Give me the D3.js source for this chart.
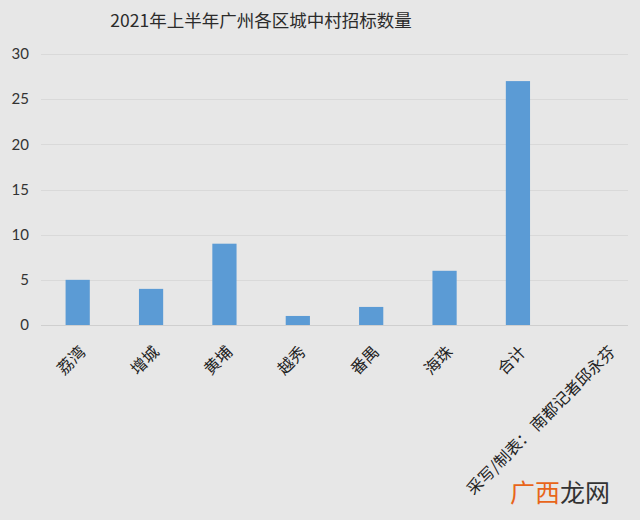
<!DOCTYPE html>
<html>
<head>
<meta charset="utf-8">
<script src="https://cdn.jsdelivr.net/npm/d3@7"></script>
<style>
  body { margin: 0; background: #e7e7e7; }
</style>
</head>
<body>
<div id="container"></div>
<script>
let w = 640;
let h = 520;

// DATA
let districts = ["荔湾", "增城", "黄埔", "越秀", "番禺", "海珠", "合计", "采写/制表： 南都记者邱永芬"];
let counts = [5, 4, 9, 1, 2, 6, 27, null];
let yTicks = [0, 5, 10, 15, 20, 25, 30];
let title = "2021年上半年广州各区城中村招标数量";

let viz = d3.select("#container").append("svg")
    .attr("width", w)
    .attr("height", h)
    .style("background-color", "#e7e7e7")
    .style("display", "block");

let xScale = d3.scaleBand().domain(districts).range([41, 628]).paddingInner(0.67).paddingOuter(0.335);
let yScale = d3.scaleLinear().domain([0, 30]).range([325, 54]);

// title
viz.append("text")
    .attr("x", 261)
    .attr("y", 27)
    .attr("text-anchor", "middle")
    .attr("font-family", "'Noto Sans CJK SC', 'Open Sans', sans-serif")
    .attr("font-size", 17.5)
    .attr("fill", "#2b2b2b")
    .text(title);

// gridlines
viz.selectAll(".grid").data(yTicks).enter()
  .append("line")
    .attr("x1", 41)
    .attr("x2", 628)
    .attr("y1", d => Math.round(yScale(d)) + 0.5)
    .attr("y2", d => Math.round(yScale(d)) + 0.5)
    .attr("stroke", d => d == 0 ? "#cfcfcf" : "#d9d9d9")
    .attr("stroke-width", 1);

// y axis labels
let yAxis = d3.axisLeft(yScale).tickValues(yTicks).tickSize(0).tickPadding(0);
let yg = viz.append("g").attr("transform", "translate(29,0)").call(yAxis);
yg.select(".domain").remove();
yg.selectAll("text")
    .attr("font-family", "Lato, 'Open Sans', sans-serif")
    .attr("font-size", 15)
    .attr("fill", "#333");

// bars
viz.selectAll(".bar").data(districts.map((d, i) => ({name: d, value: counts[i]})).filter(d => d.value != null)).enter()
  .append("rect")
    .attr("class", "bar")
    .attr("x", d => xScale(d.name))
    .attr("width", xScale.bandwidth())
    .attr("y", d => yScale(d.value))
    .attr("height", d => yScale(0) - yScale(d.value))
    .attr("fill", "#5b9bd5");

// x axis labels, rotated
let xAxis = d3.axisBottom(xScale).tickSize(0).tickPadding(0);
let xg = viz.append("g").attr("transform", "translate(0,325)").call(xAxis);
xg.select(".domain").remove();
xg.selectAll("text")
    .attr("font-family", "'Noto Sans CJK SC', sans-serif")
    .attr("font-size", 16)
    .attr("fill", "#222")
    .attr("text-anchor", "end")
    .attr("dy", 0)
    .attr("transform", (d, i) => i == districts.length - 1 ? "translate(25,28) rotate(-45)" : "translate(9,28) rotate(-45)");

// watermark
let wm = viz.append("text")
    .attr("x", 510)
    .attr("y", 502)
    .attr("font-family", "'Noto Sans CJK SC', sans-serif")
    .attr("font-size", 25);
wm.append("tspan").attr("fill", "#e8651a").text("广西");
wm.append("tspan").attr("fill", "#333").text("龙网");
</script>
</body>
</html>
